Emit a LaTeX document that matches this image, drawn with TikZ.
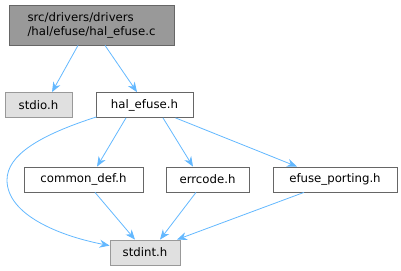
\documentclass[tikz,border=0pt]{standalone}
\usepackage{fontspec}
\setmainfont{DejaVu Sans}
\usetikzlibrary{arrows.meta,calc}
\definecolor{edgec}{HTML}{63B8FF}
\definecolor{mainfill}{HTML}{999999}
\definecolor{mainborder}{HTML}{666666}
\definecolor{sysfill}{HTML}{E0E0E0}
\definecolor{sysborder}{HTML}{999999}
\begin{document}
\begin{tikzpicture}[x=0.75pt,y=-0.75pt,
  box/.style={draw=mainborder,fill=white,line width=0.6pt,inner sep=0pt,
    font=\fontsize{8.8}{10.5}\selectfont,minimum height=18.75pt},
  sysbox/.style={box,draw=sysborder,fill=sysfill},
  mainbox/.style={box,fill=mainfill,align=left,minimum height=30pt},
  edge/.style={draw=edgec,line width=0.6pt,-{Stealth[length=7.5pt,width=6pt]}}]
\useasboundingbox (0,0) rectangle (401,271);
\node[mainbox,minimum width=123.75pt] (main) at (91.5,25) {src/drivers/drivers\\/hal/efuse/hal\_efuse.c};
\node[sysbox,minimum width=50.25pt] (stdio) at (38.5,105) {stdio.h};
\node[box,minimum width=72.75pt] (hal) at (144.5,105) {hal\_efuse.h};
\node[box,minimum width=89.25pt] (common) at (83.5,179.5) {common\_def.h};
\node[box,minimum width=62.25pt] (err) at (207.5,179.5) {errcode.h};
\node[box,minimum width=93pt] (port) at (335,179.5) {efuse\_porting.h};
\node[sysbox,minimum width=52.5pt] (stdint) at (145,252.5) {stdint.h};
\draw[edge] ($(main.south)+(-13.5,0)$) -- ($(stdio.north)+(13.5,0)$);
\draw[edge] ($(main.south)+(13.5,0)$) -- ($(hal.north)+(-7.5,0)$);
\draw[edge] ($(hal.south)+(-18.5,0)$) -- ($(common.north)+(13.5,0)$);
\draw[edge] ($(hal.south)+(18.5,0)$) -- ($(err.north)+(-14.5,0)$);
\draw[edge] ($(hal.south)+(31,0)$) -- ($(port.north)+(-38,0)$);
\draw[edge] ($(common.south)+(11.5,0)$) -- ($(stdint.north)+(-10,0)$);
\draw[edge] ($(err.south)+(-11.5,0)$) -- ($(stdint.north)+(15,0)$);
\draw[edge] ($(port.south)+(-31,0)$) -- ($(stdint.north)+(32,0)$);
\draw[edge] ($(hal.south west)+(1,-1)$) .. controls (40,135) and (7,155) .. (7,180)
  .. controls (7,215) and (60,236) .. ($(stdint.north west)+(0,6)$);
\end{tikzpicture}
\end{document}
